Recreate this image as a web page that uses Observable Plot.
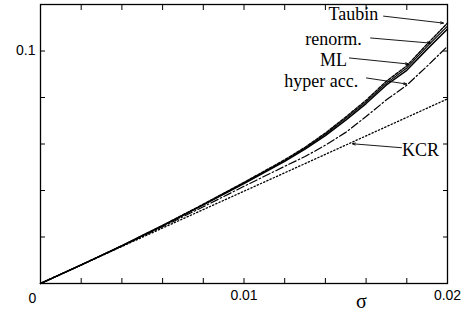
<!DOCTYPE html>
<html><head><meta charset="utf-8">
<script src="https://cdn.jsdelivr.net/npm/d3@7"></script>
<script src="https://cdn.jsdelivr.net/npm/@observablehq/plot@0.6"></script>
<style>body{margin:0;background:#fff}</style>
</head><body><div id="chart"></div>
<script>
const sigma = [0, 0.002, 0.004, 0.006, 0.008, 0.010, 0.012, 0.013, 0.014, 0.015, 0.016, 0.017, 0.018, 0.019, 0.020];
const taubin = [0, 0.0080, 0.0163, 0.0250, 0.0341, 0.0435, 0.0532, 0.0586, 0.0647, 0.0716, 0.0788, 0.0870, 0.0936, 0.1030, 0.1120];
const renorm = [0, 0.0080, 0.0162, 0.0249, 0.0339, 0.0432, 0.0528, 0.0582, 0.0642, 0.0710, 0.0781, 0.0862, 0.0927, 0.1020, 0.1107];
const ml     = [0, 0.0080, 0.0162, 0.0248, 0.0338, 0.0430, 0.0525, 0.0578, 0.0636, 0.0703, 0.0774, 0.0854, 0.0917, 0.1008, 0.1095];
const hyper  = [0, 0.0080, 0.0161, 0.0244, 0.0330, 0.0418, 0.0504, 0.0546, 0.0595, 0.0650, 0.0718, 0.0790, 0.0853, 0.0935, 0.1020];
const kcrSigma = [0, 0.004, 0.008, 0.012, 0.016, 0.020];
const kcr      = [0, 0.0159, 0.0318, 0.0476, 0.0635, 0.0794];

const xMinorTicks = [0, 0.002, 0.004, 0.006, 0.008, 0.010, 0.012, 0.014, 0.016, 0.018, 0.020];
const xLabelTicks = [0.01, 0.02];
const yMinorTicks = [0, 0.02, 0.04, 0.06, 0.08, 0.10];
const yLabelTicks = [0.1];

const labels   = ["Taubin", "renorm.", "ML", "hyper acc.", "KCR"];
const labelX   = [0.01538, 0.01440, 0.01440, 0.01380, 0.01867];
const labelY   = [0.1157, 0.1052, 0.0962, 0.0872, 0.0575];
const arrowX1  = [0.01686, 0.01622, 0.01518, 0.01602, 0.01774];
const arrowY1  = [0.1150, 0.1056, 0.0970, 0.0884, 0.0584];
const arrowX2  = [0.01980, 0.01916, 0.01808, 0.01799, 0.01533];
const arrowY2  = [0.1120, 0.1034, 0.0944, 0.0858, 0.0601];

const mk = (arr) => sigma.map((s, i) => ({s, v: arr[i]}));
const kcrData = kcrSigma.map((s, i) => ({s, v: kcr[i]}));
const annot = labels.map((t, i) => ({t, tx: labelX[i], ty: labelY[i],
  x1: arrowX1[i], y1: arrowY1[i], x2: arrowX2[i], y2: arrowY2[i]}));

const serif = "Liberation Serif, Times New Roman, serif";
const chart = Plot.plot({
  width: 468, height: 316,
  marginLeft: 40, marginRight: 21, marginTop: 4, marginBottom: 33,
  style: {fontFamily: "Liberation Sans, Arial, sans-serif", fontSize: "14px", background: "#fff", color: "black"},
  x: {domain: [0, 0.02]},
  y: {domain: [0, 0.12]},
  marks: [
    Plot.axisX({ticks: xMinorTicks, anchor: "bottom", tickSize: -5, tickFormat: () => "", label: null}),
    Plot.axisX({ticks: xMinorTicks, anchor: "top", tickSize: -5, tickFormat: () => "", label: null}),
    Plot.axisY({ticks: yMinorTicks, anchor: "left", tickSize: -5, tickFormat: () => "", label: null}),
    Plot.axisY({ticks: yMinorTicks, anchor: "right", tickSize: -5, tickFormat: () => "", label: null}),
    Plot.axisX({ticks: xLabelTicks, anchor: "bottom", tickSize: 0, tickPadding: 7, tickFormat: d => String(d), label: null, fontSize: 14}),
    Plot.axisY({ticks: yLabelTicks, anchor: "left", tickSize: 0, tickPadding: 5, tickFormat: d => String(d), label: null, fontSize: 14}),
    Plot.text(["0"], {x: 0, y: 0, text: d => d, frameAnchor: "bottom", dx: -8, dy: 19, fontSize: 14}),
    Plot.text(["σ"], {x: 0.01577, text: d => d, frameAnchor: "bottom", dy: 24, fontSize: 20, fontFamily: serif}),
    Plot.line(kcrData, {x: "s", y: "v", stroke: "black", strokeWidth: 1.3, strokeDasharray: "1.3,2.2"}),
    Plot.line(mk(hyper), {x: "s", y: "v", stroke: "black", strokeWidth: 1.2, strokeDasharray: "8,2.5,1.5,2.5"}),
    Plot.line(mk(ml), {x: "s", y: "v", stroke: "black", strokeWidth: 1.5}),
    Plot.line(mk(renorm), {x: "s", y: "v", stroke: "black", strokeWidth: 1.1}),
    Plot.line(mk(taubin), {x: "s", y: "v", stroke: "black", strokeWidth: 1.4, strokeDasharray: "3,1.5"}),
    Plot.arrow(annot, {x1: "x1", y1: "y1", x2: "x2", y2: "y2", stroke: "black", strokeWidth: 0.9, headLength: 5, headAngle: 40}),
    Plot.text(annot, {x: "tx", y: "ty", text: "t", textAnchor: "middle", fontFamily: serif, fontSize: 18, fill: "black"}),
    Plot.frame({stroke: "black", strokeWidth: 1.3})
  ]
});
document.getElementById("chart").appendChild(chart);
</script>
</body></html>
